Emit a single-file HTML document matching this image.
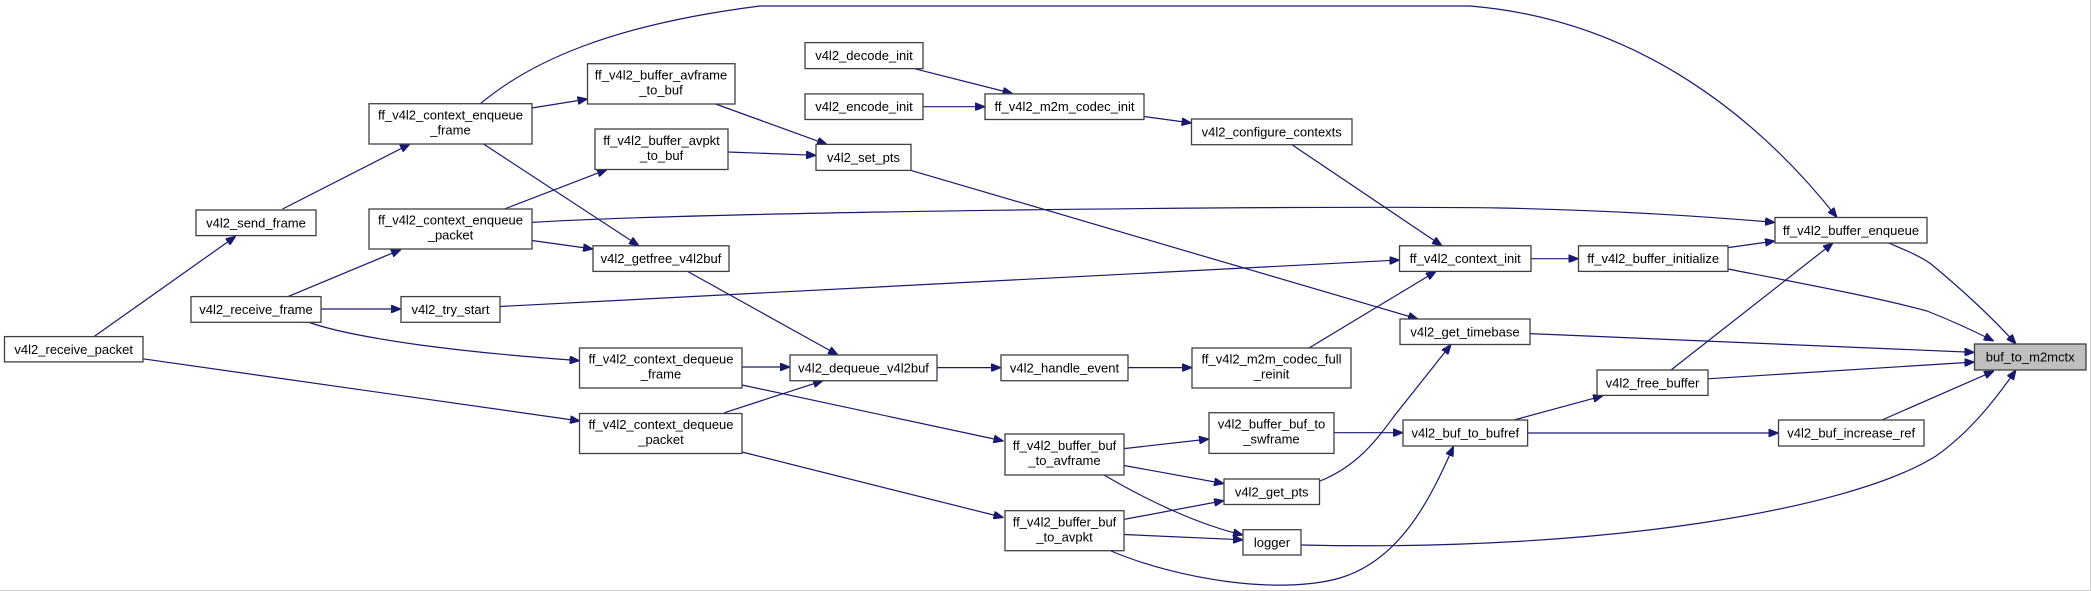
<!DOCTYPE html>
<html><head><meta charset="utf-8"><style>
html,body{margin:0;padding:0;background:#fff;}
svg{display:block;}
text{font-family:"Liberation Sans",Arial,sans-serif;font-size:13px;fill:#000;text-anchor:middle;}
.b{fill:#fff;stroke:#404040;stroke-width:1.3;}
.e{fill:none;stroke:#191970;stroke-width:1.2;}
</style></head><body>
<svg width="2091" height="591" viewBox="0 0 2091 591" xmlns="http://www.w3.org/2000/svg">
<defs><marker id="a" viewBox="0 0 10 8" refX="10" refY="4" markerWidth="10" markerHeight="8" markerUnits="userSpaceOnUse" orient="auto"><path d="M0,0L10,4L0,8z" fill="#191970" stroke="#191970"/></marker></defs>
<rect x="0" y="0" width="2091" height="591" fill="#fff"/>
<line x1="0" y1="590.5" x2="2091" y2="590.5" stroke="#ccc"/>
<line x1="2090.5" y1="0" x2="2090.5" y2="591" stroke="#ccc"/>
<g marker-end="url(#a)">
<path class="e" d="M94,336.6L235.7,236.3"/>
<path class="e" d="M143,358.8L580,421"/>
<path class="e" d="M282.6,209L410,144"/>
<path class="e" d="M288,296.6L401,249.5"/>
<path class="e" d="M321,309L401,309"/>
<path class="e" d="M308,322C330,330 370,338 420,345C480,353 530,357 579.5,360.7"/>
<path class="e" d="M480,104C530,62 610,25 760,6L1470,6C1640,20 1760,120 1837,217.5"/>
<path class="e" d="M532,108L587.5,99"/>
<path class="e" d="M483.5,144L639,245.8"/>
<path class="e" d="M532,222.4C700,212 1300,205 1500,208C1600,210 1700,216 1775,222.4"/>
<path class="e" d="M532,240.5L593,249"/>
<path class="e" d="M504.5,209L607,169.6"/>
<path class="e" d="M715.6,104L827,144.4"/>
<path class="e" d="M727.7,152L816,155.3"/>
<path class="e" d="M687.5,271.4L838,355"/>
<path class="e" d="M500,306.5L1399.5,260"/>
<path class="e" d="M914,68.6L1012.5,93.5"/>
<path class="e" d="M923,106.7L985,106.7"/>
<path class="e" d="M1144,116.5L1191.5,123"/>
<path class="e" d="M1292,144.7L1442,245.8"/>
<path class="e" d="M911,170.4L1418,319"/>
<path class="e" d="M742,367L790,367"/>
<path class="e" d="M742,385L1003.5,441"/>
<path class="e" d="M724.5,412.7L823,380.7"/>
<path class="e" d="M742,452L1003.5,517.5"/>
<path class="e" d="M937,367.6L1001,367.6"/>
<path class="e" d="M1128,367.6L1192,367.6"/>
<path class="e" d="M1309,348L1436,271.4"/>
<path class="e" d="M1531,258.7L1578.5,258.7"/>
<path class="e" d="M1728,247.6L1775,241"/>
<path class="e" d="M1728,269C1800,283 1880,298 1927,311C1950,320 1972,330 1993.7,341"/>
<path class="e" d="M1888.8,243C1905,250 1920,256 1931,264C1960,288 1990,315 2016,344"/>
<path class="e" d="M1530,333.6L1974.5,352.4"/>
<path class="e" d="M1708,378.8L1974.5,362"/>
<path class="e" d="M1671,370L1833,243"/>
<path class="e" d="M1882,420L1994,371"/>
<path class="e" d="M1301,545C1600,552 1850,510 1936,456C1970,432 1995,400 2016,370"/>
<path class="e" d="M1334,432.7L1403,432.7"/>
<path class="e" d="M1527.6,433L1778.5,433"/>
<path class="e" d="M1514,420L1603,395.8"/>
<path class="e" d="M1320,481C1360,465 1380,435 1395,415C1415,390 1435,365 1451,344.5"/>
<path class="e" d="M1124,448.6L1209,439"/>
<path class="e" d="M1124,465.5L1224,483.6"/>
<path class="e" d="M1104,475C1150,502 1200,525 1243,535"/>
<path class="e" d="M1124,519.4L1224,500.6"/>
<path class="e" d="M1124,534.5L1243,539.8"/>
<path class="e" d="M1111,551C1180,580 1280,595 1340,578C1400,560 1430,500 1453.5,446.3"/>
</g>
<g>
<rect class="b" x="4.5" y="336.6" width="138.5" height="25.3"/><text x="73.7" y="354">v4l2_receive_packet</text>
<rect class="b" x="196" y="210" width="120" height="25.6"/><text x="256" y="227.5">v4l2_send_frame</text>
<rect class="b" x="191" y="296.6" width="130" height="25.7"/><text x="256" y="314">v4l2_receive_frame</text>
<rect class="b" x="369" y="103.7" width="163" height="40.3"/><text x="450.5" y="119.5">ff_v4l2_context_enqueue</text><text x="450.5" y="134.5">_frame</text>
<rect class="b" x="369" y="209" width="163" height="40"/><text x="450.5" y="224.5">ff_v4l2_context_enqueue</text><text x="450.5" y="239.5">_packet</text>
<rect class="b" x="401" y="296.6" width="99" height="25.7"/><text x="450.5" y="314">v4l2_try_start</text>
<rect class="b" x="587.5" y="63.7" width="147.5" height="40.3"/><text x="661" y="79.5">ff_v4l2_buffer_avframe</text><text x="661" y="94.5">_to_buf</text>
<rect class="b" x="595" y="129" width="133" height="40.5"/><text x="661.5" y="145">ff_v4l2_buffer_avpkt</text><text x="661.5" y="160">_to_buf</text>
<rect class="b" x="593" y="245.8" width="136" height="25.6"/><text x="661" y="263">v4l2_getfree_v4l2buf</text>
<rect class="b" x="579.5" y="348" width="162.5" height="40"/><text x="661" y="363.5">ff_v4l2_context_dequeue</text><text x="661" y="378.5">_frame</text>
<rect class="b" x="579.5" y="413.5" width="162.5" height="40"/><text x="661" y="429">ff_v4l2_context_dequeue</text><text x="661" y="444">_packet</text>
<rect class="b" x="805" y="42.6" width="118" height="26"/><text x="864" y="60">v4l2_decode_init</text>
<rect class="b" x="805" y="93.9" width="118" height="25.6"/><text x="864" y="111">v4l2_encode_init</text>
<rect class="b" x="985" y="93.9" width="159" height="25.6"/><text x="1064.5" y="111">ff_v4l2_m2m_codec_init</text>
<rect class="b" x="1191.5" y="119" width="160.5" height="25.7"/><text x="1271.7" y="136.5">v4l2_configure_contexts</text>
<rect class="b" x="816" y="144.4" width="95" height="26"/><text x="863.5" y="162">v4l2_set_pts</text>
<rect class="b" x="790" y="355" width="147" height="25.7"/><text x="863.5" y="372.5">v4l2_dequeue_v4l2buf</text>
<rect class="b" x="1001" y="355" width="127" height="25.7"/><text x="1064.5" y="372.5">v4l2_handle_event</text>
<rect class="b" x="1192" y="348" width="159" height="40"/><text x="1271.5" y="363.5">ff_v4l2_m2m_codec_full</text><text x="1271.5" y="378.5">_reinit</text>
<rect class="b" x="1209" y="412.7" width="125" height="40.7"/><text x="1271.5" y="428.5">v4l2_buffer_buf_to</text><text x="1271.5" y="443.5">_swframe</text>
<rect class="b" x="1005" y="434" width="119" height="41"/><text x="1064.5" y="450">ff_v4l2_buffer_buf</text><text x="1064.5" y="465">_to_avframe</text>
<rect class="b" x="1224" y="479" width="95.5" height="25.5"/><text x="1271.7" y="496.5">v4l2_get_pts</text>
<rect class="b" x="1005" y="510.7" width="119" height="40"/><text x="1064.5" y="526.5">ff_v4l2_buffer_buf</text><text x="1064.5" y="541.5">_to_avpkt</text>
<rect class="b" x="1243" y="529.7" width="58" height="25.3"/><text x="1272" y="547">logger</text>
<rect class="b" x="1775" y="217.5" width="152" height="25.5"/><text x="1851" y="235">ff_v4l2_buffer_enqueue</text>
<rect class="b" x="1399.5" y="245.8" width="131.5" height="25.6"/><text x="1465.2" y="263">ff_v4l2_context_init</text>
<rect class="b" x="1578.5" y="245.8" width="149.5" height="25.6"/><text x="1653.2" y="263">ff_v4l2_buffer_initialize</text>
<rect class="b" x="1400" y="319" width="130" height="25.5"/><text x="1465" y="336.5">v4l2_get_timebase</text>
<rect x="1974.5" y="344" width="111.5" height="26" fill="#bfbfbf" stroke="#404040" stroke-width="1.3"/><text x="2030.2" y="361.5">buf_to_m2mctx</text>
<rect class="b" x="1597" y="370" width="111" height="25.4"/><text x="1652.5" y="387.5">v4l2_free_buffer</text>
<rect class="b" x="1403" y="420" width="124.6" height="26"/><text x="1465.3" y="437.5">v4l2_buf_to_bufref</text>
<rect class="b" x="1778.5" y="420" width="145.5" height="26"/><text x="1851.2" y="437.5">v4l2_buf_increase_ref</text>
</g>
</svg>
</body></html>
